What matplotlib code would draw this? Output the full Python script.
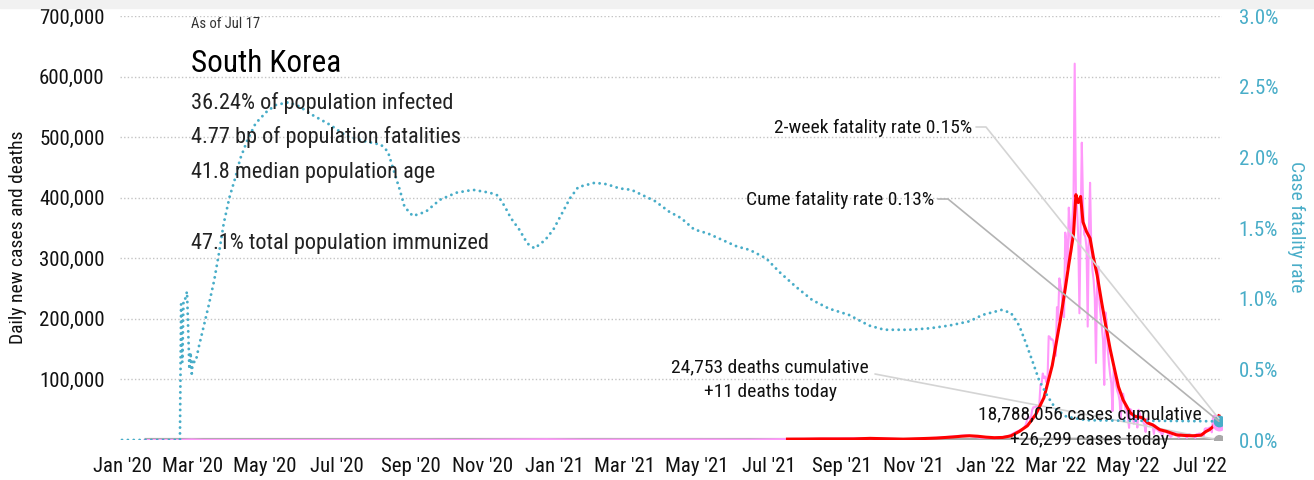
## South Korea covid dashboard: daily cases, deaths and case fatality rate
import matplotlib
matplotlib.use('Agg')
import matplotlib.pyplot as plt
import matplotlib.dates as mdates
from matplotlib import font_manager
from matplotlib.patches import Rectangle
from matplotlib.ticker import FuncFormatter, FixedLocator
import pandas as pd

## a narrow sans if one is installed
prefer = ['Roboto Condensed', 'Liberation Sans Narrow', 'Open Sans Condensed', 'Noto Sans Condensed']
names = {f.name for f in font_manager.fontManager.ttflist}
family = next((n for n in prefer if n in names), None)
stretch = 'normal'
if family is None:
    family = 'DejaVu Sans'
    if any(f.name == 'DejaVu Sans' and str(f.stretch) == 'condensed' for f in font_manager.fontManager.ttflist):
        stretch = 'condensed'
plt.rcParams['font.family'] = [family, 'DejaVu Sans']
plt.rcParams['font.stretch'] = stretch

## daily new cases, sparse points before the omicron wave
case_dates_early = ['2020-01-20', '2020-02-18', '2020-02-29', '2020-03-10', '2020-04-15', '2020-06-10',
                    '2020-08-27', '2020-10-15', '2020-12-25', '2021-01-25', '2021-04-21', '2021-06-15',
                    '2021-07-22', '2021-08-11', '2021-09-25', '2021-10-25', '2021-11-24', '2021-12-15',
                    '2021-12-27', '2022-01-10', '2022-01-20', '2022-01-26']
case_vals_early = [1, 1, 909, 131, 27, 50, 441, 110, 1241, 437, 731, 545,
                   1842, 2223, 3273, 1265, 4116, 7850, 3865, 3005, 6603, 13009]

## daily new cases from Feb 1 2022
case_start = '2022-02-01'
case_vals = [
    18341, 20270, 22907, 27443, 36362, 38689, 35286, 36719, 49567, 54122,
    53926, 54941, 56431, 54619, 57177, 90443, 93135, 109831, 102211, 104829,
    95362, 99573, 171452, 170016, 165890, 166209, 163566, 139626,
    138993, 219241, 198803, 266853, 254327, 243628, 210716, 202721, 342446, 327549,
    282987, 383665, 350190, 309790, 362338, 400741, 621328, 407017, 381454, 334708,
    209169, 353980, 490881, 395598, 339514, 335580, 318130, 187213, 347554, 424641, 320743,
    280273, 264171, 234301, 127190, 266135, 286294, 224820, 205333, 185566, 164481,
    90928, 210755, 195419, 148443, 125846, 107916, 93001, 47743, 118504, 111319,
    90867, 81058, 75449, 64725, 34370, 76787, 76214, 63567, 50568, 49933,
    37771, 20087, 51131, 49064, 42296, 26714, 40064, 40061, 20601, 49933,
    43925, 35906, 32451, 29581, 25434, 13296, 35117, 31142, 26382, 23949,
    25125, 22655, 9975, 23956, 18816, 16584, 14388, 13358, 12542, 6141, 13358,
    15797, 13358, 12542, 9898, 9828, 5022, 6171, 13358, 12165, 12155,
    10000, 8437, 3828, 7198, 11494, 9299, 7999, 7198, 6063, 3526,
    9305, 9867, 7493, 7224, 6239, 6789, 3423, 9595, 9528, 10455,
    10715, 10059, 10410, 6249, 18147, 19371, 18511, 19323, 20410, 20261,
    12693, 37360, 40266, 38882, 35883, 40342, 26299]

## 7-day average of new cases (last year only)
avg_dates = ['2021-07-17', '2021-07-31', '2021-08-14', '2021-08-28', '2021-09-11', '2021-09-25',
             '2021-10-09', '2021-10-23', '2021-11-06', '2021-11-20', '2021-12-04', '2021-12-11',
             '2021-12-18', '2021-12-25', '2022-01-01', '2022-01-08', '2022-01-15', '2022-01-22',
             '2022-01-29', '2022-02-05', '2022-02-12', '2022-02-19', '2022-02-26', '2022-03-05',
             '2022-03-09', '2022-03-12', '2022-03-16', '2022-03-18', '2022-03-19', '2022-03-20',
             '2022-03-22', '2022-03-24', '2022-03-27', '2022-03-30', '2022-04-02', '2022-04-05',
             '2022-04-09', '2022-04-12', '2022-04-16', '2022-04-19', '2022-04-23', '2022-04-27',
             '2022-05-03', '2022-05-07', '2022-05-13', '2022-05-18', '2022-05-22', '2022-05-28',
             '2022-06-03', '2022-06-11', '2022-06-18', '2022-06-25', '2022-07-02', '2022-07-06',
             '2022-07-09', '2022-07-12', '2022-07-15', '2022-07-17']
avg_vals = [1450, 1500, 1800, 1750, 1800, 2700,
            2000, 1400, 2200, 3200, 5000, 6200,
            7000, 6200, 4700, 3800, 4200, 6800,
            14000, 23500, 42000, 70000, 123000, 200000,
            250000, 290000, 340000, 405000, 397000, 392000,
            402000, 360000, 344000, 333000, 300000, 272000,
            225000, 192000, 150000, 123000, 88000, 66000,
            45000, 39000, 37000, 28000, 25000, 17000,
            14000, 8500, 7500, 7000, 8000, 14000,
            17000, 22000, 31000, 40000]

## daily deaths
death_dates = ['2020-01-20', '2020-03-05', '2020-06-01', '2020-09-01', '2020-12-29', '2021-06-01',
               '2021-09-01', '2021-12-23', '2022-01-20', '2022-03-24', '2022-05-15', '2022-06-20',
               '2022-07-17']
death_vals = [0, 7, 1, 5, 40, 3, 12, 109, 30, 470, 40, 10, 11]

## cumulative case fatality rate, percent
cfr_dates = ['2020-01-01', '2020-02-19', '2020-02-20', '2020-02-21', '2020-02-22', '2020-02-23',
             '2020-02-24', '2020-02-25', '2020-02-26', '2020-02-27', '2020-02-28', '2020-02-29',
             '2020-03-01', '2020-03-02', '2020-03-03', '2020-03-04', '2020-03-06', '2020-03-10',
             '2020-03-14', '2020-03-19', '2020-03-23', '2020-03-27', '2020-04-01', '2020-04-06',
             '2020-04-10', '2020-04-16', '2020-04-23', '2020-05-02', '2020-05-10', '2020-05-21',
             '2020-05-30', '2020-06-10', '2020-06-25', '2020-07-09', '2020-07-26', '2020-08-07',
             '2020-08-13', '2020-08-17', '2020-08-23', '2020-08-27', '2020-09-03', '2020-09-14',
             '2020-09-26', '2020-10-10', '2020-10-24', '2020-11-07', '2020-11-14', '2020-11-20',
             '2020-11-25', '2020-12-02', '2020-12-09', '2020-12-15', '2020-12-24', '2020-12-31',
             '2021-01-07', '2021-01-14', '2021-01-21', '2021-02-04', '2021-02-14', '2021-02-25',
             '2021-03-07', '2021-03-17', '2021-03-27', '2021-04-08', '2021-04-18', '2021-04-29',
             '2021-05-11', '2021-05-23', '2021-06-04', '2021-06-15', '2021-06-29', '2021-07-10',
             '2021-07-24', '2021-08-07', '2021-08-21', '2021-09-07', '2021-09-24', '2021-10-07',
             '2021-10-28', '2021-11-14', '2021-12-01', '2021-12-18', '2021-12-29', '2022-01-14',
             '2022-01-22', '2022-01-29', '2022-02-04', '2022-02-10', '2022-02-15', '2022-02-22',
             '2022-03-01', '2022-03-10', '2022-03-27', '2022-04-24', '2022-06-05', '2022-07-06',
             '2022-07-17']
cfr_vals = [0, 0, 0.96, 0.55, 0.98, 0.98,
            1.02, 1.05, 0.78, 0.50, 0.62, 0.47,
            0.57, 0.55, 0.58, 0.58, 0.66, 0.80,
            0.94, 1.13, 1.32, 1.53, 1.72, 1.86,
            1.99, 2.12, 2.24, 2.32, 2.37, 2.39,
            2.36, 2.30, 2.23, 2.15, 2.11, 2.09,
            2.04, 1.93, 1.77, 1.65, 1.585, 1.615,
            1.70, 1.75, 1.77, 1.75, 1.73, 1.65,
            1.57, 1.49, 1.39, 1.356, 1.415, 1.49,
            1.60, 1.71, 1.79, 1.82, 1.81, 1.78,
            1.77, 1.73, 1.69, 1.615, 1.57, 1.49,
            1.46, 1.415, 1.37, 1.345, 1.285, 1.19,
            1.085, 0.99, 0.93, 0.885, 0.81, 0.78,
            0.78, 0.79, 0.81, 0.84, 0.885, 0.92,
            0.90, 0.81, 0.68, 0.54, 0.42, 0.31,
            0.22, 0.165, 0.14, 0.137, 0.135, 0.133,
            0.132]

left_ticks = [100000, 200000, 300000, 400000, 500000, 600000, 700000]
right_ticks = [0, 0.5, 1.0, 1.5, 2.0, 2.5, 3.0]

info_lines = ['36.24% of population infected', '4.77 bp of population fatalities',
              '41.8 median population age', '47.1% total population immunized']

PINK = '#ff99fa'
TEAL = '#48adc8'
GRAY = '#a9a9a9'

case_dates = list(pd.to_datetime(case_dates_early)) + list(pd.date_range(case_start, periods=len(case_vals)))
cases = case_vals_early + case_vals
avg_d = pd.to_datetime(avg_dates)
death_d = pd.to_datetime(death_dates)
cfr_d = pd.to_datetime(cfr_dates)

W, H = 1314, 480
fig = plt.figure(figsize=(W / 100, H / 100), dpi=100)
fig.patches.append(Rectangle((0, 1 - 8 / H), 1, 8 / H, transform=fig.transFigure,
                             color='#f1f1f1', zorder=0))

ax = fig.add_axes([120 / W, 40 / H, 1102 / W, 424 / H])
ax2 = ax.twinx()

ax.plot(death_d, death_vals, color=GRAY, lw=3, zorder=2, solid_capstyle='butt')
ax.plot(case_dates, cases, color=PINK, lw=1.5, zorder=3)
ax.plot(avg_d, avg_vals, color='#ff0000', lw=2.2, zorder=4)
ax.plot(case_dates[-1], cases[-1], 'o', color=PINK, ms=9, zorder=5)
ax.plot(death_d[-1], death_vals[-1], 'o', color=GRAY, ms=7, zorder=5)

ax2.plot(cfr_d, cfr_vals, color=TEAL, lw=2.1, linestyle=(0, (0.01, 2.0)),
         dash_capstyle='round')
ax2.plot(cfr_d[-1], cfr_vals[-1], 'o', color=TEAL, ms=7.5)

## axes: 1.182 px per day, Jan 1 2020 sits 2 px in from the left edge
x0 = mdates.date2num(pd.Timestamp('2020-01-01')) - 1.7
ax.set_xlim(x0, x0 + 1102 / 1.182)
ax.set_ylim(0, 700000)
ax2.set_ylim(0, 3.0)

ax.xaxis.set_major_locator(mdates.MonthLocator(bymonth=(1, 3, 5, 7, 9, 11)))
ax.xaxis.set_major_formatter(FuncFormatter(lambda v, p: mdates.num2date(v).strftime("%b '%y")))
ax.yaxis.set_major_locator(FixedLocator(left_ticks))
ax.yaxis.set_major_formatter(FuncFormatter(lambda v, p: f'{v:,.0f}'))
ax2.yaxis.set_major_locator(FixedLocator(right_ticks))
ax2.yaxis.set_major_formatter(FuncFormatter(lambda v, p: f'{v:.1f}%'))

ax.tick_params(axis='x', length=0, pad=12, labelsize=15, labelcolor='#111111')
ax.tick_params(axis='y', length=0, pad=11, labelsize=15, labelcolor='#111111')
ax2.tick_params(axis='y', length=0, pad=12, labelsize=15, labelcolor=TEAL)
for a in (ax, ax2):
    for s in a.spines.values():
        s.set_visible(False)
ax.grid(axis='y', color='#c4c4c4', lw=1, linestyle=(0, (1, 1.6)))
ax.set_axisbelow(True)

fig.text(18 / W, 1 - 237 / H, 'Daily new cases and deaths', rotation=90,
         ha='center', va='center', fontsize=14, color='#111111')
fig.text(1296 / W, 1 - 227 / H, 'Case fatality rate', rotation=270,
         ha='center', va='center', fontsize=14, color=TEAL)

## header block
fig.text(191 / W, 1 - 28 / H, 'As of Jul 17', fontsize=10.5, color='#333333')
fig.text(191 / W, 1 - 72.5 / H, 'South Korea', fontsize=22.5, color='#000000')
for txt, base in zip(info_lines, [109, 143, 178, 249]):
    fig.text(191 / W, 1 - base / H, txt, fontsize=16, color='#222222')

## callouts with leader lines to the last values
line_kw = dict(arrowstyle='-', shrinkA=0, shrinkB=0)
end = cfr_d[-1]

fig.text(972 / W, 1 - 133 / H, '2-week fatality rate 0.15%', ha='right', fontsize=14, color='#111111')
ax2.annotate('', xy=(end, 0.15), xytext=(976, H - 127), textcoords='figure pixels',
             arrowprops=dict(color='#d4d4d4', lw=1.2, connectionstyle='arc,angleA=0,armA=10,rad=0', **line_kw))

fig.text(934 / W, 1 - 205 / H, 'Cume fatality rate 0.13%', ha='right', fontsize=14, color='#111111')
ax2.annotate('', xy=(end, cfr_vals[-1]), xytext=(938, H - 199), textcoords='figure pixels',
             arrowprops=dict(color='#b3b3b3', lw=1.2, connectionstyle='arc,angleA=0,armA=10,rad=0', **line_kw))

fig.text(770 / W, 1 - 372 / H, '24,753 deaths cumulative', ha='center', fontsize=14, color='#111111')
fig.text(770 / W, 1 - 397 / H, '+11 deaths today', ha='center', fontsize=14, color='#111111')
ax.annotate('', xy=(death_d[-1], death_vals[-1]), xytext=(875, H - 374), textcoords='figure pixels',
            arrowprops=dict(color='#d4d4d4', lw=1.2, **line_kw))

fig.text(1090 / W, 1 - 419 / H, '18,788,056 cases cumulative', ha='center', fontsize=14, color='#111111')
fig.text(1090 / W, 1 - 445 / H, '+26,299 cases today', ha='center', fontsize=14, color='#111111')

fig.savefig('out.png', dpi=100)
